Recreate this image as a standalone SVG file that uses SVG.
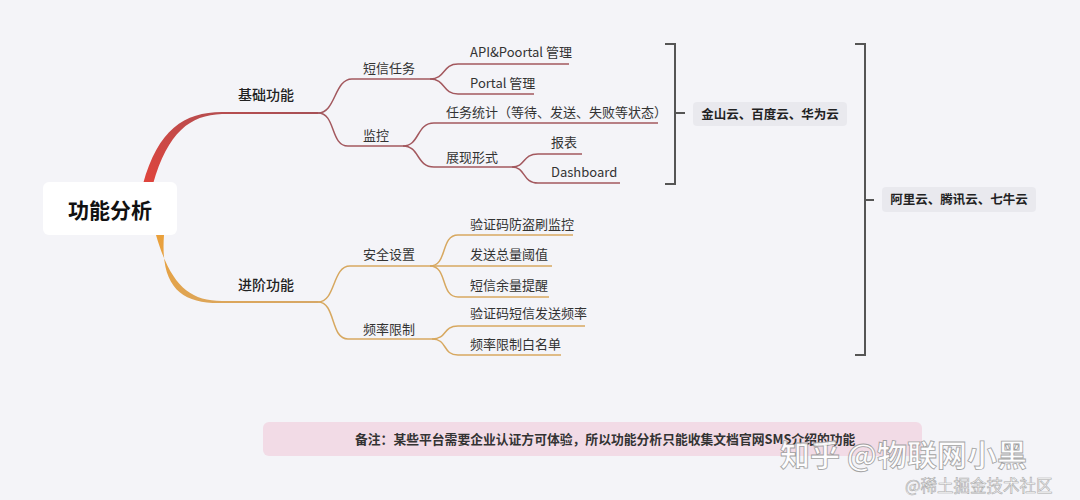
<svg xmlns="http://www.w3.org/2000/svg" width="1080" height="500" viewBox="0 0 1080 500">
<style>
text{font-family:"Noto Sans CJK SC","Noto Sans",sans-serif;fill:#333}
.t{font-size:13px}
.m{font-size:14px;font-weight:500;fill:#222}
.r{stroke:#a3585e;stroke-width:1.5;fill:none}
.o{stroke:#d7a860;stroke-width:1.5;fill:none}
.br{stroke:#555;stroke-width:2;fill:none}
.cl{font-size:12.5px;font-weight:bold;fill:#222}
</style>
<defs>
<linearGradient id="gr" x1="0" y1="1" x2="1" y2="0"><stop offset="0" stop-color="#e0443c"/><stop offset="1" stop-color="#a65056"/></linearGradient>
<linearGradient id="go" x1="0" y1="0" x2="1" y2="1"><stop offset="0" stop-color="#eaa03a"/><stop offset="1" stop-color="#d6a868"/></linearGradient>
</defs>
<rect width="1080" height="500" fill="#f4f4f8"/>
<g id="connectors">
<path d="M143,184 C158,130 184,112 222,112 L318,112 L318,114 L222,114 C190,115 168,132 153,184 Z" fill="url(#gr)"/>
<path d="M156,235 C170,283 188,301 222,301 L318,301 L318,303 L222,303 C182,304 160,288 164,235 Z" fill="url(#go)"/>
<path class="r" d="M318,113 C336,113 334,79 352,79 L430,79"/>
<path class="r" d="M318,113 C336,113 330,146 348,146 L403,146"/>
<path class="r" d="M430,79 C446,79 442,64 458,64 L569,64"/>
<path class="r" d="M430,79 C446,79 442,94 458,94 L534,94"/>
<path class="r" d="M403,146 C420,146 416,123 434,123 L658,123"/>
<path class="r" d="M403,146 C420,146 416,167 434,167 L512,167"/>
<path class="r" d="M512,167 C526,167 522,154 538,154 L582,154"/>
<path class="r" d="M512,167 C526,167 522,183 538,183 L620,183"/>
<path class="o" d="M318,302 C336,302 332,266 350,266 L430,266"/>
<path class="o" d="M318,302 C336,302 330,339 348,339 L432,339"/>
<path class="o" d="M430,266 C448,266 440,235 458,235 L573,235"/>
<path class="o" d="M430,266 L552,266"/>
<path class="o" d="M430,266 C448,266 440,297 458,297 L549,297"/>
<path class="o" d="M432,339 C448,339 442,326 458,326 L585,326"/>
<path class="o" d="M432,339 C448,339 442,355 458,355 L561,355"/>
<path class="br" d="M665,44 L675,44 L675,184 L665,184 M675,113 L685,113"/>
<path class="br" d="M855,44 L865,44 L865,355 L855,355 M865,200 L874,200"/>
</g>
<g id="root">
<rect x="43" y="182" width="134" height="53" rx="6" fill="#fff"/>
<text x="110" y="218" text-anchor="middle" style="font-size:21px;font-weight:bold;fill:#111">功能分析</text>
</g>
<g id="basic"><text class="m" x="238" y="100">基础功能</text></g>
<g id="advanced"><text class="m" x="238" y="290">进阶功能</text></g>
<g id="sms-task"><text class="t" x="363" y="73">短信任务</text></g>
<g id="monitor"><text class="t" x="363" y="140">监控</text></g>
<g id="api-mgmt"><text class="t" x="470" y="57">API&amp;Poortal 管理</text></g>
<g id="portal-mgmt"><text class="t" x="470" y="88">Portal 管理</text></g>
<g id="task-stats"><text class="t" x="446" y="117">任务统计（等待、发送、失败等状态）</text></g>
<g id="display"><text class="t" x="446" y="162">展现形式</text></g>
<g id="report"><text class="t" x="551" y="147">报表</text></g>
<g id="dashboard"><text class="t" x="551" y="177">Dashboard</text></g>
<g id="security"><text class="t" x="363" y="259">安全设置</text></g>
<g id="rate-limit"><text class="t" x="363" y="334">频率限制</text></g>
<g id="anti-fraud"><text class="t" x="470" y="229">验证码防盗刷监控</text></g>
<g id="threshold"><text class="t" x="470" y="259">发送总量阈值</text></g>
<g id="balance"><text class="t" x="470" y="290">短信余量提醒</text></g>
<g id="freq"><text class="t" x="470" y="318">验证码短信发送频率</text></g>
<g id="whitelist"><text class="t" x="470" y="349">频率限制白名单</text></g>
<g id="cloud1">
<rect x="693" y="102" width="154" height="24" rx="4" fill="#e9e9ee"/>
<text class="cl" x="770" y="118.5" text-anchor="middle">金山云、百度云、华为云</text>
</g>
<g id="cloud2">
<rect x="882" y="187" width="154" height="25" rx="4" fill="#e9e9ee"/>
<text class="cl" x="959" y="204" text-anchor="middle">阿里云、腾讯云、七牛云</text>
</g>
<g id="note">
<rect x="263" y="422" width="659" height="34" rx="6" fill="#f2dbe6"/>
<text x="355" y="444" style="font-size:12.8px;font-weight:bold;fill:#333">备注：某些平台需要企业认证方可体验，所以功能分析只能收集文档官网SMS介绍的功能</text>
</g>
<g id="watermark">
<text x="780" y="466" style="font-size:30px;font-weight:bold;fill:#fff;stroke:#999;stroke-width:0.8;opacity:0.9">知乎 @物联网小黑</text>
<text x="905" y="492" style="font-size:16.5px;fill:#fff;stroke:#aaa;stroke-width:0.6">@稀土掘金技术社区</text>
</g>
</svg>
